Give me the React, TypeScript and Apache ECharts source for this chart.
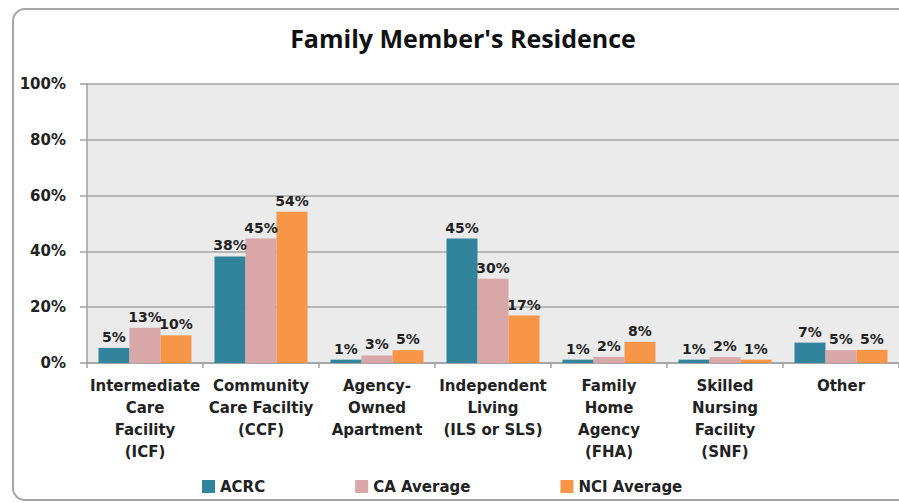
import React, { useEffect, useRef } from "react";
import * as echarts from "echarts";

const categories = [
  "Intermediate\nCare\nFacility\n(ICF)",
  "Community\nCare Faciltiy\n(CCF)",
  "Agency-\nOwned\nApartment",
  "Independent\nLiving\n(ILS or SLS)",
  "Family\nHome\nAgency\n(FHA)",
  "Skilled\nNursing\nFacility\n(SNF)",
  "Other",
];
const acrc = [5.4, 38.2, 1.2, 44.6, 1.2, 1.2, 7.3];
const caAverage = [12.6, 44.6, 2.7, 30.2, 2.2, 2.1, 4.6];
const nciAverage = [9.9, 54.2, 4.6, 17.0, 7.6, 1.2, 4.7];
const yTicks = [0, 20, 40, 60, 80, 100];

const FONT = "DejaVu Sans";

export default function App() {
  const ref = useRef<HTMLDivElement>(null);
  useEffect(() => {
    if (!ref.current) return;
    const chart = echarts.init(ref.current, null, { renderer: "svg" });
    const label = {
      show: true,
      position: "top",
      distance: 4,
      formatter: (p: any) => Math.round(p.value) + "%",
      fontFamily: FONT,
      fontWeight: "bold",
      fontSize: 14,
      color: "#222",
    };
    const mk = (name: string, data: number[], color: string) => ({
      name,
      type: "bar",
      data,
      barWidth: 31,
      barGap: "0%",
      itemStyle: { color },
      label,
    });
    chart.setOption({
      animation: false,
      backgroundColor: "#fff",
      graphic: [
        {
          type: "rect",
          z: -1,
          shape: { x: 13, y: 9, width: 900, height: 491, r: 12 },
          style: { fill: "none", stroke: "#A6A6A6", lineWidth: 2 },
        },
        {
          type: "text",
          x: 463,
          y: 38,
          style: {
            text: "Family Member's Residence",
            textAlign: "center",
            textVerticalAlign: "middle",
            fontFamily: "Open Sans",
            fontWeight: "bold",
            fontSize: 25,
            fill: "#111",
          },
        },
      ],
      legend: {
        left: 197,
        top: 474,
        itemGap: 90,
        itemWidth: 13,
        itemHeight: 13,
        icon: "rect",
        textStyle: { fontFamily: FONT, fontWeight: "bold", fontSize: 15, color: "#222" },
        data: ["ACRC", "CA Average", "NCI Average"],
      },
      grid: {
        left: 87,
        top: 84,
        width: 815,
        height: 279,
        show: true,
        backgroundColor: "#EBEBEB",
        borderWidth: 0,
      },
      xAxis: {
        type: "category",
        data: categories,
        axisLine: { lineStyle: { color: "#A0A0A0", width: 1.5 } },
        axisTick: { show: true, length: 5, lineStyle: { color: "#A0A0A0", width: 1.5 } },
        axisLabel: {
          interval: 0,
          margin: 12,
          lineHeight: 22,
          fontFamily: FONT,
          fontWeight: "bold",
          fontSize: 15,
          color: "#222",
          align: "center",
        },
      },
      yAxis: {
        type: "value",
        min: yTicks[0],
        max: yTicks[yTicks.length - 1],
        interval: 20,
        axisLine: { show: true, lineStyle: { color: "#A0A0A0", width: 1.5 } },
        axisTick: { show: true, length: 7, lineStyle: { color: "#A0A0A0", width: 1.5 } },
        splitLine: { lineStyle: { color: "#A6A6A6", width: 1.5 } },
        axisLabel: {
          margin: 21,
          formatter: "{value}%",
          fontFamily: FONT,
          fontWeight: "bold",
          fontSize: 15,
          color: "#222",
        },
      },
      series: [
        mk("ACRC", acrc, "#31849B"),
        mk("CA Average", caAverage, "#D9A7A7"),
        mk("NCI Average", nciAverage, "#F79646"),
      ],
    });
    return () => chart.dispose();
  }, []);
  return (
    <div
      ref={ref}
      style={{ position: "fixed", left: 0, top: 0, width: 899, height: 503 }}
    />
  );
}
